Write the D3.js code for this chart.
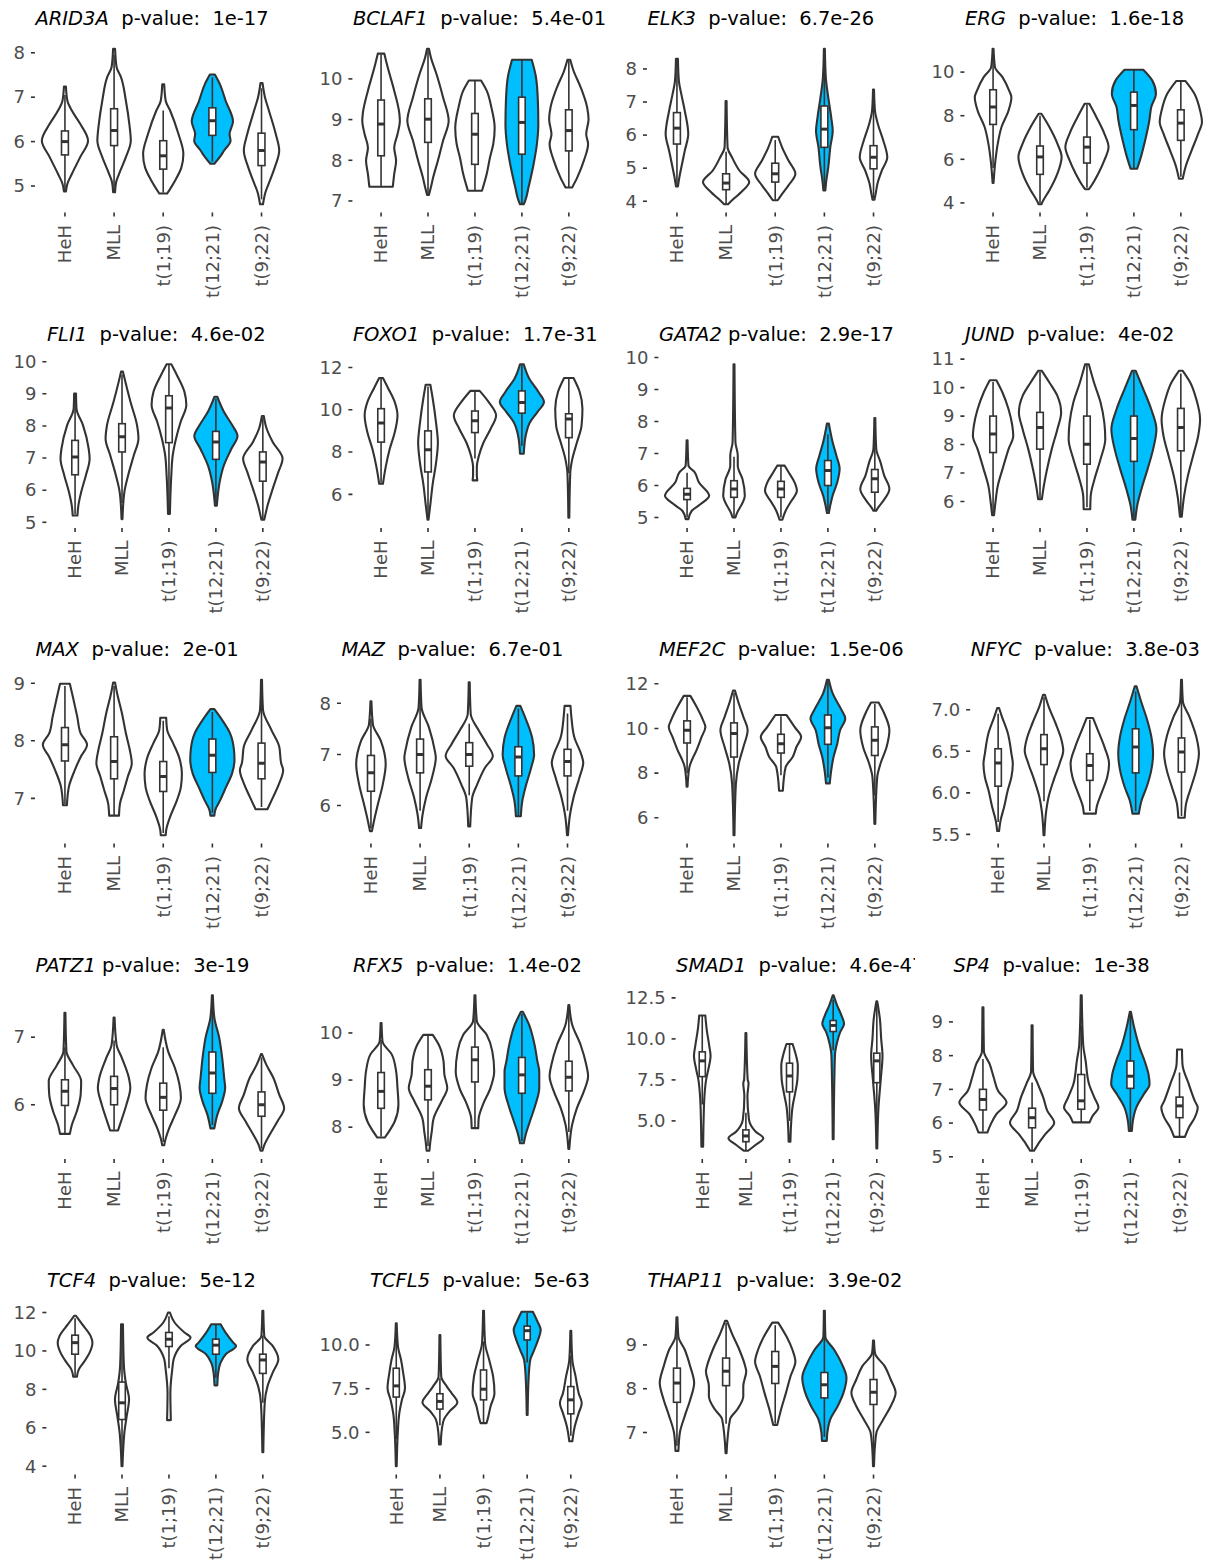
<!DOCTYPE html>
<html>
<head>
<meta charset="utf-8">
<script src="https://cdn.jsdelivr.net/npm/d3@7"></script>
<style>
body { margin: 0; background: #fff; }
svg { display: block; font-family: "DejaVu Sans", sans-serif; }
</style>
</head>
<body>
<svg id="chart"></svg>
<script>
// groups on the x axis of every panel
const groups = ["HeH", "MLL", "t(1;19)", "t(12;21)", "t(9;22)"];
const highlight = "t(12;21)";

const genes = ["ARID3A", "BCLAF1", "ELK3", "ERG", "FLI1", "FOXO1", "GATA2", "JUND", "MAX", "MAZ",
    "MEF2C", "NFYC", "PATZ1", "RFX5", "SMAD1", "SP4", "TCF4", "TCFL5", "THAP11"];
const pvalues = ["1e-17", "5.4e-01", "6.7e-26", "1.6e-18", "4.6e-02", "1.7e-31", "2.9e-17", "4e-02", "2e-01", "6.7e-01",
    "1.5e-06", "3.8e-03", "3e-19", "1.4e-02", "4.6e-47", "1e-38", "5e-12", "5e-63", "3.9e-02"];
const titleGaps = [2, 2, 2, 2, 2, 2, 1, 2, 2, 2, 2, 2, 1, 2, 2, 2, 2, 2, 2];

// tick labels of each y axis
const yTicks = [[5, 6, 7, 8], [7, 8, 9, 10], [4, 5, 6, 7, 8], [4, 6, 8, 10], [5, 6, 7, 8, 9, 10], [6, 8, 10, 12],
    [5, 6, 7, 8, 9, 10], [6, 7, 8, 9, 10, 11], [7, 8, 9], [6, 7, 8], [6, 8, 10, 12], [5.5, 6.0, 6.5, 7.0],
    [6, 7], [8, 9, 10], [5.0, 7.5, 10.0, 12.5], [5, 6, 7, 8, 9], [4, 6, 8, 10, 12], [5.0, 7.5, 10.0], [7, 8, 9]];
const tickDecimals = [0, 0, 0, 0, 0, 0, 0, 0, 0, 0, 0, 1, 0, 0, 1, 0, 0, 1, 0];

// violin outlines: [expression, half width as share of the group step], from bottom to top
const violinShapes = [
    // ARID3A
    [[[4.88, .02], [5.05, .05], [5.27, .14], [5.65, .31], [6.02, .47], [6.4, .31], [6.7, .14], [6.92, .05], [7.24, .02]],
     [[4.86, .02], [5.08, .04], [5.27, .1], [5.65, .24], [6.02, .34], [6.4, .31], [6.92, .24], [7.45, .14], [7.68, .05], [8.09, .02]],
     [[4.83, .08], [5.12, .24], [5.42, .37], [5.72, .41], [6.17, .31], [6.7, .14], [6.92, .05], [7.29, .02]],
     [[5.5, .04], [5.65, .15], [5.8, .24], [6.02, .37], [6.17, .35], [6.45, .42], [6.92, .27], [7.3, .15], [7.51, .05]],
     [[4.59, .03], [4.86, .08], [5.12, .17], [5.42, .27], [5.8, .36], [6.17, .29], [6.7, .15], [7.0, .07], [7.32, .02]]],
    // BCLAF1
    [[[7.35, .25], [7.66, .28], [7.99, .32], [8.31, .28], [8.64, .35], [8.97, .4], [9.14, .39], [9.71, .28], [10.29, .14], [10.62, .07]],
     [[7.15, .02], [7.33, .06], [7.58, .11], [7.99, .21], [8.48, .32], [8.97, .44], [9.55, .32], [10.12, .18], [10.53, .06], [10.74, .02]],
     [[7.25, .15], [7.66, .25], [8.07, .32], [8.4, .39], [8.8, .42], [9.3, .35], [9.71, .25], [9.96, .13]],
     [[6.92, .04], [7.0, .07], [7.33, .14], [7.91, .25], [8.4, .32], [8.89, .35], [9.47, .34], [10.04, .3], [10.47, .21]],
     [[7.33, .07], [7.58, .18], [7.99, .32], [8.4, .41], [8.64, .37], [9.01, .42], [9.3, .39], [9.8, .25], [10.2, .1], [10.47, .03]]],
    // ELK3
    [[[4.45, .02], [4.73, .05], [5.03, .09], [5.53, .16], [6.03, .23], [6.73, .16], [7.23, .09], [7.63, .04], [8.31, .02]],
     [[3.91, .04], [4.08, .16], [4.28, .31], [4.58, .47], [4.93, .27], [5.33, .12], [5.63, .03], [7.03, .01]],
     [[4.03, .05], [4.18, .12], [4.48, .27], [4.83, .41], [5.23, .27], [5.63, .14], [5.95, .06]],
     [[4.33, .02], [4.63, .04], [5.03, .08], [5.63, .12], [6.13, .17], [6.53, .14], [7.13, .08], [7.73, .03], [8.61, .01]],
     [[4.05, .02], [4.28, .05], [4.53, .08], [4.93, .17], [5.33, .28], [5.83, .2], [6.33, .09], [6.73, .03], [7.38, .01]]],
    // ERG
    [[[4.92, .01], [5.95, .05], [6.72, .1], [7.48, .18], [8.24, .33], [8.85, .39], [9.16, .34], [9.77, .2], [10.23, .04], [11.07, .01]],
     [[3.94, .03], [4.12, .07], [4.58, .2], [5.34, .37], [6.11, .46], [6.72, .37], [7.48, .2], [8.09, .03]],
     [[4.63, .04], [4.81, .1], [5.34, .24], [5.95, .37], [6.56, .46], [7.18, .37], [7.94, .2], [8.55, .05]],
     [[5.57, .07], [6.11, .15], [6.87, .24], [7.79, .33], [8.4, .37], [9.01, .47], [9.62, .39], [10.11, .2]],
     [[5.11, .04], [5.65, .1], [6.41, .23], [7.18, .37], [7.71, .45], [8.24, .41], [9.01, .29], [9.59, .1]]],
    // FLI1
    [[[5.21, .05], [5.52, .07], [5.94, .13], [6.46, .23], [6.98, .31], [7.29, .29], [8.02, .17], [8.54, .03], [9.01, .02]],
     [[5.1, .01], [5.94, .05], [6.46, .13], [7.08, .25], [7.6, .35], [8.02, .32], [8.75, .18], [9.38, .07], [9.69, .02]],
     [[5.26, .02], [6.46, .05], [7.08, .08], [7.6, .15], [8.13, .25], [8.65, .37], [9.06, .33], [9.58, .17], [9.92, .05]],
     [[5.52, .02], [5.83, .04], [6.25, .08], [6.77, .17], [7.29, .33], [7.69, .46], [8.02, .35], [8.44, .17], [8.91, .03]],
     [[5.08, .03], [5.21, .05], [5.52, .1], [6.04, .21], [6.56, .33], [6.98, .42], [7.5, .21], [7.92, .08], [8.31, .02]]],
    // FOXO1
    [[[6.5, .04], [7.31, .1], [8.11, .18], [8.92, .29], [9.73, .35], [10.37, .29], [11.02, .15], [11.5, .04]],
     [[4.8, .01], [5.53, .05], [6.5, .1], [7.47, .17], [8.44, .21], [9.4, .17], [10.53, .1], [11.18, .05]],
     [[6.66, .05], [6.9, .04], [7.31, .04], [7.79, .08], [8.44, .18], [9.08, .33], [9.73, .45], [10.37, .29], [10.89, .1]],
     [[7.92, .04], [8.76, .08], [9.4, .17], [9.89, .33], [10.37, .47], [10.85, .35], [11.5, .15], [12.15, .04]],
     [[4.89, .01], [7.0, .03], [7.63, .07], [8.44, .17], [9.24, .27], [10.05, .29], [10.85, .23], [11.5, .1]]],
    // GATA2
    [[[4.95, .03], [5.21, .1], [5.42, .29], [5.68, .47], [6.1, .25], [6.42, .16], [6.62, .03], [7.41, .01]],
     [[5.0, .03], [5.16, .07], [5.37, .15], [5.68, .23], [6.2, .18], [6.62, .08], [6.94, .08], [7.36, .03], [9.79, .01]],
     [[4.93, .03], [5.21, .1], [5.47, .2], [5.84, .34], [6.1, .29], [6.42, .16], [6.62, .08]],
     [[5.14, .02], [5.37, .05], [5.68, .1], [6.1, .2], [6.52, .25], [6.94, .18], [7.36, .1], [7.94, .02]],
     [[5.21, .03], [5.31, .07], [5.52, .18], [5.89, .31], [6.31, .2], [6.73, .12], [7.15, .03], [8.11, .01]]],
    // JUND
    [[[5.52, .02], [5.96, .05], [6.55, .1], [7.13, .2], [7.84, .33], [8.31, .43], [8.66, .41], [9.24, .33], [9.83, .2], [10.26, .07]],
     [[6.08, .04], [6.43, .07], [7.13, .15], [7.84, .25], [8.54, .37], [9.13, .45], [9.71, .37], [10.18, .2], [10.59, .04]],
     [[5.73, .07], [6.2, .08], [6.78, .16], [7.49, .29], [8.19, .39], [8.77, .37], [9.48, .29], [10.18, .15], [10.82, .04]],
     [[5.36, .03], [5.85, .07], [6.43, .16], [7.13, .29], [7.84, .41], [8.54, .48], [9.24, .37], [9.95, .2], [10.59, .04]],
     [[5.47, .02], [6.2, .07], [6.9, .15], [7.6, .26], [8.31, .37], [8.89, .41], [9.59, .33], [10.18, .2], [10.59, .04]]],
    // MAX
    [[[6.88, .04], [7.2, .08], [7.49, .2], [7.72, .32], [7.93, .45], [8.13, .32], [8.42, .25], [8.77, .16], [8.99, .1]],
     [[6.7, .1], [6.91, .12], [7.14, .2], [7.38, .28], [7.61, .36], [7.84, .32], [8.13, .24], [8.48, .16], [8.83, .06], [9.01, .02]],
     [[6.36, .05], [6.45, .06], [6.68, .14], [6.97, .28], [7.2, .36], [7.43, .38], [7.72, .32], [7.96, .2], [8.19, .08], [8.4, .06]],
     [[6.7, .04], [6.8, .06], [6.97, .16], [7.2, .28], [7.43, .4], [7.67, .45], [7.84, .44], [8.13, .36], [8.36, .2], [8.55, .04]],
     [[6.81, .12], [7.03, .24], [7.26, .36], [7.49, .44], [7.61, .4], [7.9, .36], [8.19, .2], [8.54, .03], [9.06, .01]]],
    // MAZ
    [[[5.5, .02], [5.69, .06], [6.02, .14], [6.41, .24], [6.81, .3], [7.27, .2], [7.59, .04], [8.04, .01]],
     [[5.56, .02], [5.82, .05], [6.15, .12], [6.54, .24], [6.94, .32], [7.07, .3], [7.53, .18], [7.92, .03], [8.46, .01]],
     [[5.59, .02], [6.15, .06], [6.41, .16], [6.74, .32], [6.97, .48], [7.2, .36], [7.46, .2], [7.79, .03], [8.41, .01]],
     [[5.79, .05], [6.09, .08], [6.41, .16], [6.74, .26], [7.0, .32], [7.33, .28], [7.72, .14], [7.95, .04]],
     [[5.42, .01], [5.82, .05], [6.15, .12], [6.54, .24], [6.84, .32], [7.0, .28], [7.33, .14], [7.72, .08], [7.95, .06]]],
    // MEF2C
    [[[7.39, .01], [8.27, .05], [8.57, .1], [9.02, .2], [9.62, .31], [10.07, .39], [10.37, .34], [10.98, .2], [11.46, .07]],
     [[5.22, .01], [7.51, .04], [8.42, .1], [9.17, .2], [9.92, .29], [10.52, .2], [11.13, .1], [11.7, .02]],
     [[7.21, .04], [8.27, .1], [8.72, .25], [9.17, .33], [9.62, .43], [10.07, .29], [10.6, .12]],
     [[7.54, .04], [8.11, .07], [8.72, .12], [9.32, .2], [9.92, .26], [10.45, .37], [10.83, .29], [11.58, .1], [12.18, .02]],
     [[5.73, .01], [7.81, .05], [8.42, .12], [9.17, .25], [9.92, .31], [10.67, .2], [11.16, .08]]],
    // NFYC
    [[[5.54, .02], [5.66, .05], [5.83, .13], [6.03, .21], [6.19, .29], [6.35, .32], [6.47, .29], [6.72, .21], [6.92, .08], [7.02, .02]],
     [[5.49, .01], [5.79, .05], [5.95, .1], [6.15, .21], [6.35, .34], [6.51, .42], [6.64, .38], [6.84, .25], [7.04, .1], [7.18, .02]],
     [[5.75, .13], [5.83, .15], [5.99, .25], [6.19, .38], [6.35, .42], [6.55, .32], [6.76, .17], [6.9, .07]],
     [[5.75, .07], [5.91, .13], [6.07, .24], [6.27, .34], [6.47, .38], [6.68, .34], [6.88, .25], [7.08, .13], [7.28, .02]],
     [[5.7, .07], [5.87, .1], [6.07, .21], [6.27, .32], [6.47, .38], [6.68, .32], [6.92, .17], [7.1, .03], [7.36, .01]]],
    // PATZ1
    [[[5.57, .1], [5.7, .14], [5.9, .24], [6.15, .32], [6.35, .33], [6.59, .16], [6.79, .03], [7.36, .01]],
     [[5.62, .08], [5.75, .14], [6.0, .25], [6.25, .33], [6.4, .3], [6.69, .16], [6.89, .05], [7.29, .01]],
     [[5.4, .02], [5.5, .05], [5.65, .12], [5.85, .24], [6.1, .36], [6.3, .33], [6.54, .24], [6.79, .1], [7.11, .01]],
     [[5.65, .04], [5.85, .1], [6.05, .2], [6.25, .26], [6.4, .24], [6.69, .2], [6.99, .14], [7.29, .04], [7.62, .01]],
     [[5.32, .02], [5.41, .06], [5.55, .16], [5.75, .32], [5.95, .46], [6.15, .36], [6.4, .24], [6.59, .1], [6.75, .01]]],
    // RFX5
    [[[7.78, .08], [7.91, .17], [8.12, .29], [8.48, .37], [8.83, .35], [9.19, .32], [9.54, .23], [9.82, .03], [10.21, .01]],
     [[7.5, .03], [7.7, .05], [7.91, .08], [8.19, .12], [8.55, .29], [8.83, .41], [9.11, .35], [9.4, .33], [9.75, .23], [9.96, .1]],
     [[7.98, .07], [8.19, .08], [8.48, .17], [8.83, .33], [9.18, .41], [9.61, .37], [9.96, .25], [10.25, .04], [10.8, .01]],
     [[7.66, .04], [7.84, .08], [8.12, .17], [8.48, .29], [8.83, .37], [9.18, .37], [9.4, .33], [9.75, .27], [10.18, .15], [10.45, .02]],
     [[7.54, .01], [8.05, .07], [8.4, .17], [8.76, .32], [9.08, .41], [9.33, .37], [9.75, .25], [10.18, .07], [10.59, .01]]],
    // SMAD1
    [[[3.42, .02], [5.0, .03], [6.5, .05], [7.53, .09], [8.15, .14], [8.97, .19], [9.58, .16], [10.61, .1], [11.43, .07]],
     [[3.18, .05], [3.53, .22], [3.94, .4], [4.35, .22], [5.07, .07], [6.5, .035], [7.3, .06], [7.53, .04], [10.36, .01]],
     [[3.73, .02], [5.0, .04], [5.89, .07], [6.71, .13], [7.53, .18], [8.35, .19], [9.17, .13], [9.69, .07]],
     [[3.88, .01], [8.97, .04], [9.79, .09], [10.41, .16], [10.92, .25], [11.43, .19], [12.05, .09], [12.66, .01]],
     [[3.32, .01], [5.89, .04], [7.53, .09], [8.97, .13], [10.0, .1], [11.23, .07], [12.29, .01]]],
    // SP4
    [[[5.72, .09], [5.97, .16], [6.26, .27], [6.61, .48], [6.95, .31], [7.35, .22], [7.74, .14], [8.13, .02], [9.43, .01]],
     [[5.18, .04], [5.37, .12], [5.67, .27], [6.01, .45], [6.36, .31], [6.75, .23], [7.15, .12], [7.54, .02], [8.9, .01]],
     [[6.02, .17], [6.21, .23], [6.46, .35], [6.75, .27], [7.15, .16], [7.84, .09], [8.33, .04], [9.79, .01]],
     [[5.77, .03], [6.06, .05], [6.46, .12], [6.85, .27], [7.15, .39], [7.44, .37], [7.84, .29], [8.23, .19], [8.82, .08], [9.3, .01]],
     [[5.59, .11], [5.87, .19], [6.16, .31], [6.46, .37], [6.66, .31], [7.15, .19], [7.74, .06], [8.18, .05]]],
    // TCF4
    [[[8.66, .04], [9.04, .08], [9.39, .18], [9.91, .31], [10.43, .37], [10.78, .33], [11.39, .15], [11.83, .02]],
     [[4.0, .01], [4.87, .025], [5.74, .05], [6.61, .1], [7.48, .15], [8.35, .08], [9.22, .04], [11.39, .02]],
     [[6.4, .04], [7.83, .03], [9.04, .07], [9.57, .1], [10.26, .25], [10.7, .46], [10.96, .33], [11.48, .12], [12.0, .02]],
     [[8.21, .03], [8.87, .05], [9.39, .1], [9.83, .21], [10.26, .43], [10.43, .37], [10.87, .23], [11.39, .1]],
     [[4.73, .01], [7.3, .04], [8.17, .1], [8.87, .21], [9.57, .33], [10.26, .21], [10.78, .03], [12.09, .01]]],
    // TCFL5
    [[[3.06, .01], [4.96, .035], [6.1, .07], [6.86, .13], [7.53, .2], [8.38, .16], [9.14, .11], [9.9, .04], [11.24, .01]],
     [[4.3, .02], [4.96, .035], [5.72, .09], [6.2, .22], [6.71, .4], [7.24, .27], [7.62, .16], [8.19, .03], [10.57, .01]],
     [[5.53, .07], [5.91, .11], [6.48, .16], [7.24, .25], [8.19, .22], [9.14, .13], [10.1, .035], [11.96, .01]],
     [[6.0, .01], [8.19, .035], [9.14, .07], [9.71, .16], [10.29, .25], [10.86, .31], [11.43, .22], [11.9, .13]],
     [[4.49, .035], [5.34, .09], [6.1, .18], [6.67, .25], [7.24, .18], [8.19, .11], [9.14, .035], [10.82, .01]]],
    // THAP11
    [[[6.58, .03], [7.0, .06], [7.38, .16], [7.75, .27], [8.13, .35], [8.51, .27], [8.89, .16], [9.19, .03], [9.63, .01]],
     [[6.53, .01], [7.3, .08], [7.53, .23], [7.83, .35], [8.06, .35], [8.4, .41], [8.51, .39], [8.89, .27], [9.26, .12], [9.55, .02]],
     [[7.17, .04], [7.53, .12], [7.91, .22], [8.28, .31], [8.62, .41], [8.89, .35], [9.19, .23], [9.51, .06]],
     [[6.81, .05], [7.0, .06], [7.3, .12], [7.6, .27], [7.91, .39], [8.25, .45], [8.58, .35], [8.89, .2], [9.19, .02], [9.78, .01]],
     [[6.23, .01], [6.7, .03], [7.0, .06], [7.3, .2], [7.6, .35], [7.91, .45], [8.21, .35], [8.51, .23], [8.81, .03], [9.1, .01]]]
];

// box plots: [whisker low, q1, median, q3, whisker high]
const violinBoxes = [
    [[4.9, 5.7, 6.0, 6.24, 7.05], [4.86, 5.91, 6.25, 6.74, 7.95], [4.85, 5.38, 5.68, 6.02, 6.7], [5.55, 6.14, 6.47, 6.76, 7.45], [4.7, 5.46, 5.8, 6.19, 7.2]],
    [[7.35, 8.11, 8.89, 9.48, 10.6], [7.15, 8.44, 9.01, 9.51, 10.7], [7.25, 7.9, 8.64, 9.15, 9.96], [6.92, 8.15, 8.93, 9.55, 10.47], [7.33, 8.23, 8.73, 9.24, 10.45]],
    [[4.5, 5.73, 6.21, 6.68, 8.2], [3.92, 4.35, 4.55, 4.83, 5.5], [4.05, 4.58, 4.83, 5.15, 5.85], [4.4, 5.63, 6.18, 6.88, 8.5], [4.1, 4.98, 5.33, 5.68, 7.3]],
    [[5.6, 7.6, 8.4, 9.19, 10.9], [4.0, 5.31, 6.11, 6.61, 8.0], [4.7, 5.83, 6.56, 7.02, 8.5], [5.6, 7.36, 8.47, 9.08, 10.1], [5.2, 6.87, 7.66, 8.27, 9.55]],
    [[5.25, 6.48, 7.03, 7.55, 8.9], [5.6, 7.19, 7.66, 8.07, 9.6], [5.3, 7.48, 8.56, 8.94, 9.9], [5.6, 6.96, 7.5, 7.83, 8.85], [5.1, 6.28, 6.88, 7.19, 8.25]],
    [[6.55, 8.47, 9.37, 10.05, 11.45], [4.8, 7.06, 8.11, 9.0, 11.1], [7.7, 8.92, 9.48, 9.94, 10.85], [8.3, 9.84, 10.34, 10.89, 12.1], [7.0, 8.68, 9.56, 9.81, 11.45]],
    [[5.0, 5.56, 5.73, 5.91, 6.4], [5.0, 5.63, 5.89, 6.15, 6.9], [5.0, 5.63, 5.89, 6.13, 6.6], [5.2, 6.0, 6.47, 6.78, 7.6], [5.2, 5.79, 6.21, 6.5, 7.5]],
    [[5.6, 7.72, 8.37, 9.0, 10.2], [6.1, 7.84, 8.6, 9.13, 10.55], [5.8, 7.31, 8.01, 9.0, 10.8], [5.4, 7.41, 8.21, 9.0, 10.55], [5.5, 7.78, 8.6, 9.27, 10.5]],
    [[6.9, 7.65, 7.93, 8.23, 8.95], [6.7, 7.34, 7.64, 8.07, 8.95], [6.4, 7.12, 7.38, 7.64, 8.35], [6.75, 7.45, 7.75, 8.03, 8.5], [6.85, 7.34, 7.61, 7.96, 9.0]],
    [[5.55, 6.28, 6.64, 6.98, 7.7], [5.9, 6.64, 7.0, 7.3, 8.4], [6.2, 6.77, 7.0, 7.23, 7.6], [5.8, 6.58, 6.95, 7.15, 7.9], [5.9, 6.58, 6.86, 7.1, 7.8]],
    [[8.0, 9.35, 9.92, 10.34, 11.4], [6.0, 8.72, 9.77, 10.25, 11.6], [7.9, 8.9, 9.32, 9.74, 10.55], [7.8, 9.29, 10.03, 10.6, 12.1], [7.0, 8.79, 9.47, 10.07, 11.1]],
    [[5.65, 6.08, 6.36, 6.53, 6.95], [5.9, 6.34, 6.53, 6.7, 7.15], [5.78, 6.15, 6.33, 6.47, 6.88], [5.78, 6.24, 6.55, 6.77, 7.22], [5.72, 6.25, 6.49, 6.66, 7.3]],
    [[5.58, 5.99, 6.2, 6.37, 6.85], [5.63, 6.0, 6.24, 6.42, 6.95], [5.45, 5.92, 6.11, 6.32, 6.85], [5.7, 6.17, 6.47, 6.78, 7.55], [5.35, 5.83, 6.0, 6.19, 6.7]],
    [[7.8, 8.4, 8.76, 9.16, 9.85], [7.6, 8.58, 8.87, 9.22, 9.95], [8.0, 8.96, 9.43, 9.7, 10.7], [7.7, 8.72, 9.11, 9.48, 10.4], [7.9, 8.77, 9.06, 9.4, 10.5]],
    [[6.0, 7.7, 8.66, 9.21, 11.4], [3.2, 3.73, 4.08, 4.45, 5.5], [5.0, 6.77, 7.74, 8.52, 9.65], [9.3, 10.45, 10.82, 11.12, 12.4], [4.6, 7.33, 8.66, 9.13, 12.0]],
    [[5.75, 6.39, 6.7, 7.0, 7.9], [5.2, 5.86, 6.16, 6.44, 7.2], [6.02, 6.41, 6.66, 7.44, 8.9], [5.8, 7.03, 7.39, 7.84, 9.2], [5.6, 6.16, 6.51, 6.77, 7.5]],
    [[8.7, 9.83, 10.43, 10.82, 11.7], [4.1, 6.43, 7.3, 8.38, 11.3], [9.1, 10.23, 10.61, 10.96, 11.8], [8.6, 9.83, 10.3, 10.61, 11.35], [7.3, 8.83, 9.53, 9.83, 10.8]],
    [[4.6, 7.02, 7.66, 8.67, 11.0], [5.4, 6.33, 6.77, 7.21, 8.1], [5.55, 6.86, 7.47, 8.57, 10.2], [9.0, 10.29, 10.82, 11.08, 11.85], [4.8, 6.06, 6.86, 7.62, 9.4]],
    [[6.7, 7.69, 8.13, 8.47, 9.3], [7.2, 8.07, 8.4, 8.7, 9.5], [7.2, 8.12, 8.51, 8.85, 9.45], [6.9, 7.79, 8.09, 8.37, 9.5], [6.5, 7.64, 7.92, 8.21, 9.0]]
];

const width = 1210, height = 1561;
const cellW = 306, rowH = 315.5;
const plotTop = 41, plotBottom = 212;
const ink = "#333333", grey = "#4D4D4D", blue = "#00BFFF";

const svg = d3.select("#chart").attr("width", width).attr("height", height);

genes.forEach(function (gene, gi) {
    const col = gi % 4;
    const row = Math.floor(gi / 4);
    const cellX = col * cellW;
    const cellY = row * rowH;

    // each plot is cut at the edge of its own cell (long titles get clipped)
    svg.append("clipPath").attr("id", "clip" + gi)
        .append("rect")
        .attr("x", cellX).attr("y", cellY)
        .attr("width", cellW - 3).attr("height", rowH);

    const cell = svg.append("g").attr("clip-path", "url(#clip" + gi + ")");

    // y labels first, their width sets where the panel starts
    const fmt = d3.format(tickDecimals[gi] ? ".1f" : "d");
    const ylabels = cell.selectAll("text.ylab")
        .data(yTicks[gi])
        .join("text")
        .attr("class", "ylab")
        .attr("text-anchor", "end")
        .attr("dy", "0.35em")
        .style("font-size", "18px")
        .attr("fill", grey)
        .text(fmt);
    const labelW = d3.max(ylabels.nodes(), n => n.getComputedTextLength());

    const left = cellX + 13.5 + labelW + 10.5;
    const right = cellX + 291;

    const x = d3.scalePoint().domain(groups).range([left, right]).padding(0.6);
    const step = x.step();

    const shapes = violinShapes[gi];
    const lo = d3.min(shapes, s => s[0][0]);
    const hi = d3.max(shapes, s => s[s.length - 1][0]);
    const pad = (hi - lo) * 0.05;
    const y = d3.scaleLinear()
        .domain([lo - pad, hi + pad])
        .range([cellY + plotBottom, cellY + plotTop]);

    ylabels.attr("x", left - 10.5).attr("y", d => y(d));

    cell.selectAll("line.ytick")
        .data(yTicks[gi])
        .join("line")
        .attr("x1", left - 4.5).attr("x2", left - 0.5)
        .attr("y1", d => y(d)).attr("y2", d => y(d))
        .attr("stroke", ink).attr("stroke-width", 1.6);

    // x ticks + rotated labels
    cell.selectAll("line.xtick")
        .data(groups)
        .join("line")
        .attr("x1", d => x(d)).attr("x2", d => x(d))
        .attr("y1", cellY + plotBottom + 0.5).attr("y2", cellY + plotBottom + 4.5)
        .attr("stroke", ink).attr("stroke-width", 1.6);

    cell.selectAll("text.xlab")
        .data(groups)
        .join("text")
        .attr("text-anchor", "end")
        .attr("dy", "0.35em")
        .attr("transform", d => "translate(" + x(d) + "," + (cellY + plotBottom + 13) + ") rotate(-90)")
        .style("font-size", "18px")
        .attr("fill", grey)
        .text(d => d);

    // title, left aligned to the panel
    const title = cell.append("text")
        .attr("x", left)
        .attr("y", cellY + 25)
        .style("font-size", "19.5px")
        .style("white-space", "pre")
        .attr("fill", "#000");
    title.append("tspan").style("font-style", "italic").text(gene);
    title.append("tspan").text(" ".repeat(titleGaps[gi]) + "p-value:  " + pvalues[gi]);

    // violins
    groups.forEach(function (grp, k) {
        const cx = x(grp);
        const area = d3.area()
            .curve(d3.curveMonotoneY)
            .y(d => y(d[0]))
            .x0(d => cx - d[1] * step)
            .x1(d => cx + d[1] * step);

        cell.append("path")
            .datum(shapes[k])
            .attr("d", area)
            .attr("fill", grp == highlight ? blue : "#fff")
            .attr("stroke", ink)
            .attr("stroke-width", 2.1)
            .attr("stroke-linejoin", "round");

        const b = violinBoxes[gi][k];
        const bw = 0.14 * step;
        const box = cell.append("g");
        box.append("line")
            .attr("x1", cx).attr("x2", cx)
            .attr("y1", y(b[0])).attr("y2", y(b[1]))
            .attr("stroke", ink).attr("stroke-width", 1.6);
        box.append("line")
            .attr("x1", cx).attr("x2", cx)
            .attr("y1", y(b[3])).attr("y2", y(b[4]))
            .attr("stroke", ink).attr("stroke-width", 1.6);
        box.append("rect")
            .attr("x", cx - bw / 2).attr("width", bw)
            .attr("y", y(b[3])).attr("height", y(b[1]) - y(b[3]))
            .attr("fill", "#fff")
            .attr("stroke", ink).attr("stroke-width", 1.6);
        box.append("line")
            .attr("x1", cx - bw / 2).attr("x2", cx + bw / 2)
            .attr("y1", y(b[2])).attr("y2", y(b[2]))
            .attr("stroke", ink).attr("stroke-width", 3);
    });
});
</script>
</body>
</html>
